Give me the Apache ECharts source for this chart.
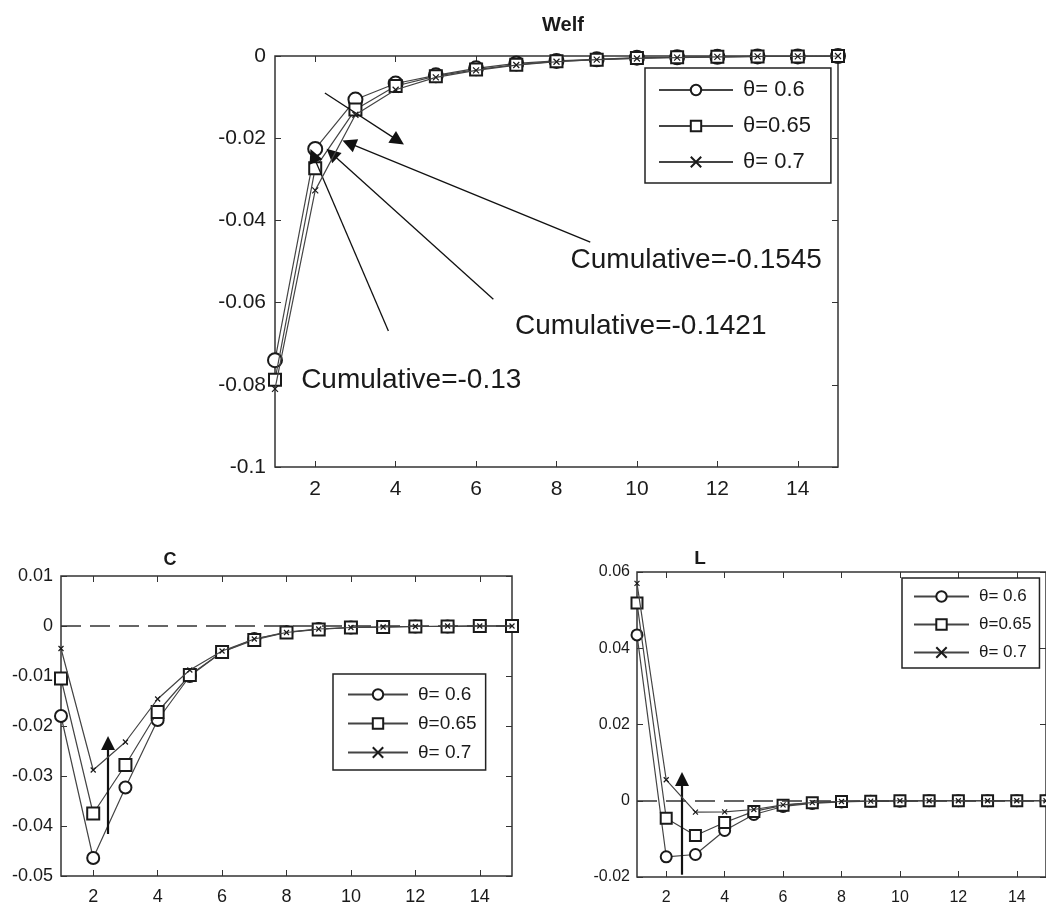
<!DOCTYPE html>
<html>
<head>
<meta charset="utf-8">
<script src="https://cdn.jsdelivr.net/npm/echarts@6/dist/echarts.min.js"></script>
<style>
  html, body { margin: 0; padding: 0; background: #fff; }
  #main { width: 1046px; height: 906px; }
</style>
</head>
<body>
<div id="main"></div>
<script>
var periods = [1, 2, 3, 4, 5, 6, 7, 8, 9, 10, 11, 12, 13, 14, 15];
var thetaNames = ['θ= 0.6', 'θ=0.65', 'θ= 0.7'];

// Welf responses
var welf06  = [-0.074, -0.0226, -0.0106, -0.0067, -0.0047, -0.0030, -0.0018, -0.0012, -0.0008, -0.0004, -0.0003, -0.0002, -0.0001, -0.0001, 0];
var welf065 = [-0.0788, -0.0273, -0.0130, -0.0073, -0.0049, -0.0033, -0.0021, -0.0013, -0.0009, -0.0005, -0.0003, -0.0002, -0.0001, -0.0001, 0];
var welf07  = [-0.0810, -0.0327, -0.0143, -0.0082, -0.0052, -0.0035, -0.0022, -0.0014, -0.0009, -0.0006, -0.0004, -0.0002, -0.0001, -0.0001, 0];

// C responses
var c06  = [-0.0180, -0.0464, -0.0323, -0.0188, -0.0100, -0.0052, -0.0026, -0.0012, -0.0006, -0.0003, -0.0002, -0.0001, -0.0001, 0, 0];
var c065 = [-0.0105, -0.0375, -0.0278, -0.0172, -0.0098, -0.0052, -0.0028, -0.0013, -0.0007, -0.0003, -0.0002, -0.0001, -0.0001, 0, 0];
var c07  = [-0.0045, -0.0288, -0.0232, -0.0146, -0.0088, -0.0050, -0.0026, -0.0013, -0.0006, -0.0003, -0.0002, -0.0001, 0, 0, 0];

// L responses
var l06  = [0.0435, -0.0147, -0.0141, -0.0078, -0.0036, -0.0015, -0.0007, -0.0003, -0.0001, -0.0001, 0, 0, 0, 0, 0];
var l065 = [0.0519, -0.0046, -0.0091, -0.0057, -0.0028, -0.0012, -0.0005, -0.0002, -0.0001, 0, 0, 0, 0, 0, 0];
var l07  = [0.0570, 0.0055, -0.0030, -0.0029, -0.0023, -0.0011, -0.0005, -0.0002, -0.0001, 0, 0, 0, 0, 0, 0];

var xTicks = [2, 4, 6, 8, 10, 12, 14];
var welfTicks = [-0.1, -0.08, -0.06, -0.04, -0.02, 0];
var cTicks = [-0.05, -0.04, -0.03, -0.02, -0.01, 0, 0.01];
var lTicks = [-0.02, 0, 0.02, 0.04, 0.06];

// annotations (data coordinates)
var welfNotes = ['Cumulative=-0.1545', 'Cumulative=-0.1421', 'Cumulative=-0.13'];
var welfNoteAt = [[8.35, -0.0498], [6.97, -0.0657], [1.65, -0.0790]];
var welfArrows = [
  [[2.24, -0.0090], [4.06, -0.0206]],
  [[8.84, -0.0453], [2.84, -0.0212]],
  [[6.43, -0.0592], [2.41, -0.0237]],
  [[3.82, -0.0669], [1.95, -0.0242]]
];
var cArrow = [[2.46, -0.0416], [2.46, -0.0234]];
var lArrow = [[2.54, -0.0194], [2.54, 0.0057]];

var FONT = 'Liberation Sans, Arial, sans-serif';
var INK = '#1a1a1a';

function pairs(ys) {
  return periods.map(function (x, i) { return [x, ys[i]]; });
}
function fmt(v) {
  return String(+(+v).toFixed(4));
}

var symbols = ['emptyCircle', 'emptyRect', 'path://M0,0L8,8M8,0L0,8'];

function makeSeries(idx, datasets, sizes) {
  return datasets.map(function (d, k) {
    return {
      name: thetaNames[k],
      type: 'line',
      xAxisIndex: idx * 2,
      yAxisIndex: idx * 2,
      data: pairs(d),
      symbol: symbols[k],
      symbolSize: sizes[k],
      showAllSymbol: true,
      z: 3 + k,
      lineStyle: { color: '#444', width: 1.2 },
      itemStyle: { color: INK, borderColor: INK, borderWidth: 1.2 }
    };
  });
}

var grids = [
  { left: 275, top: 56, width: 563, height: 411 },
  { left: 61, top: 576, width: 451, height: 307 },
  { left: 637, top: 572, width: 416, height: 307 }
];
var yTickSets = [welfTicks, cTicks, lTicks];
var yRanges = [[-0.1, 0], [-0.05, 0.01], [-0.02, 0.06]];
var tickFont = [21, 18, 16];
var yMargin = [9, 8, 7];
var xMargin = [12, 12, 13];

var xAxes = [], yAxes = [];
grids.forEach(function (g, i) {
  var tick = { inside: true, length: 6, customValues: xTicks, lineStyle: { color: '#333' } };
  var ytick = { inside: true, length: 6, customValues: yTickSets[i], lineStyle: { color: '#333' } };
  xAxes.push({
    gridIndex: i, type: 'value', min: 1, max: 15, position: 'bottom',
    axisLine: { show: false, onZero: false },
    axisTick: tick,
    axisLabel: { customValues: xTicks, fontSize: tickFont[i], color: INK, fontFamily: FONT, margin: xMargin[i] },
    splitLine: { show: false }
  });
  xAxes.push({
    gridIndex: i, type: 'value', min: 1, max: 15, position: 'top',
    axisLine: { show: false, onZero: false },
    axisTick: tick,
    axisLabel: { show: false },
    splitLine: { show: false }
  });
  yAxes.push({
    gridIndex: i, type: 'value', min: yRanges[i][0], max: yRanges[i][1], position: 'left',
    axisLine: { show: false, onZero: false },
    axisTick: ytick,
    axisLabel: { customValues: yTickSets[i], formatter: fmt, fontSize: tickFont[i], color: INK, fontFamily: FONT, margin: yMargin[i] },
    splitLine: { show: false }
  });
  yAxes.push({
    gridIndex: i, type: 'value', min: yRanges[i][0], max: yRanges[i][1], position: 'right',
    axisLine: { show: false, onZero: false },
    axisTick: ytick,
    axisLabel: { show: false },
    splitLine: { show: false }
  });
});

var welfSeries = makeSeries(0, [welf06, welf065, welf07], [14, 12, 6]);
var cSeries = makeSeries(1, [c06, c065, c07], [12, 12, 5]);
var lSeries = makeSeries(2, [l06, l065, l07], [11, 11, 5]);

function arrowItems(list, width) {
  return list.map(function (a) {
    return [
      { coord: a[0], symbol: 'none', lineStyle: { color: '#111', width: width, type: 'solid' } },
      { coord: a[1], symbol: 'triangle', symbolSize: 14 }
    ];
  });
}
var zeroLine = { yAxis: 0, lineStyle: { color: '#333', width: 1.5, type: [20, 9] } };

welfSeries[0].markLine = {
  silent: true, symbol: 'none',
  label: { show: false },
  lineStyle: { color: '#111', width: 1.3, type: 'solid' },
  itemStyle: { color: '#111' },
  data: arrowItems(welfArrows, 1.3)
};
welfSeries[0].markPoint = {
  silent: true, symbol: 'circle', symbolSize: 0,
  label: { show: true, position: 'right', distance: 0, formatter: '{b}', fontSize: 28, color: INK, fontFamily: FONT },
  data: welfNotes.map(function (t, i) { return { name: t, coord: welfNoteAt[i] }; })
};
cSeries[0].markLine = {
  silent: true, symbol: 'none',
  label: { show: false },
  lineStyle: { color: '#111', width: 2.2, type: 'solid' },
  itemStyle: { color: '#111' },
  data: [zeroLine].concat(arrowItems([cArrow], 2.2))
};
lSeries[0].markLine = {
  silent: true, symbol: 'none',
  label: { show: false },
  lineStyle: { color: '#111', width: 2.2, type: 'solid' },
  itemStyle: { color: '#111' },
  data: [zeroLine].concat(arrowItems([lArrow], 2.2))
};

function legendAt(left, top, font, itemW, gap, pad) {
  return {
    data: thetaNames, orient: 'vertical', left: left, top: top,
    itemWidth: itemW, itemHeight: 13, itemGap: gap, padding: pad,
    borderColor: '#222', borderWidth: 1.5, backgroundColor: '#fff',
    selectedMode: false,
    textStyle: { fontSize: font, color: INK, fontFamily: FONT, padding: [0, 0, 0, 5] }
  };
}

var option = {
  animation: false,
  backgroundColor: '#fff',
  title: [
    { text: 'Welf', left: 558, top: 10, textAlign: 'center', textStyle: { fontSize: 20, fontWeight: 'bold', color: INK, fontFamily: FONT } },
    { text: 'C', left: 165, top: 546, textAlign: 'center', textStyle: { fontSize: 18, fontWeight: 'bold', color: INK, fontFamily: FONT } },
    { text: 'L', left: 695, top: 544, textAlign: 'center', textStyle: { fontSize: 19, fontWeight: 'bold', color: INK, fontFamily: FONT } }
  ],
  legend: [
    legendAt(645, 68, 22, 74, 14, [11, 20, 10, 13]),
    legendAt(333, 674, 19, 60, 10, [11, 9, 8, 14]),
    legendAt(902, 578, 17, 55, 11, [10, 8, 7, 11])
  ],
  grid: grids.map(function (g) {
    return { left: g.left, top: g.top, width: g.width, height: g.height, show: true, borderColor: '#333', borderWidth: 1.5 };
  }),
  xAxis: xAxes,
  yAxis: yAxes,
  series: welfSeries.concat(cSeries, lSeries)
};

var chart = echarts.init(document.getElementById('main'));
chart.setOption(option);
</script>
</body>
</html>
